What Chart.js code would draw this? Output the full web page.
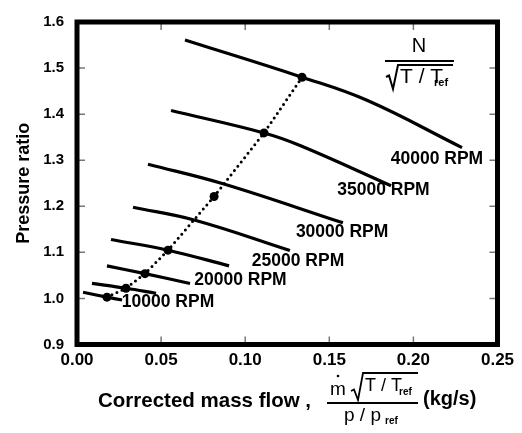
<!DOCTYPE html>
<html>
<head>
<meta charset="utf-8">
<script src="https://cdn.jsdelivr.net/npm/chart.js@4.4.1/dist/chart.umd.min.js"></script>
<style>
  html, body { margin: 0; padding: 0; background: #fff; }
  #wrap { width: 522px; height: 433px; }
</style>
</head>
<body>
<div id="wrap"><canvas id="compressorMap" width="522" height="433"></canvas></div>
<script>
// speed lines, top to bottom: corrected mass flow (kg/s) and pressure ratio
const speedFlow = [
    [0.0642, 0.1338, 0.1724, 0.2289],
    [0.0559, 0.1112, 0.1326, 0.1867],
    [0.0422, 0.0868, 0.1581],
    [0.0333, 0.0702, 0.1266],
    [0.0202, 0.0541, 0.0904],
    [0.0178, 0.0404, 0.0672],
    [0.0089, 0.0291, 0.0470],
    [0.0036, 0.0178, 0.0268]
];
const speedRatio = [
    [1.5608, 1.4801, 1.4300, 1.3274],
    [1.4080, 1.3592, 1.3320, 1.2447],
    [1.2913, 1.2489, 1.1641],
    [1.1980, 1.1698, 1.1040],
    [1.1280, 1.1047, 1.0707],
    [1.0707, 1.0538, 1.0325],
    [1.0325, 1.0220, 1.0113],
    [1.0134, 1.0028, 0.9965]
];

// operating line (dotted, with markers)
const opFlow = [0.0178, 0.0291, 0.0404, 0.0541, 0.0815, 0.1112, 0.1338];
const opRatio = [1.0028, 1.0220, 1.0538, 1.1047, 1.2213, 1.3592, 1.4801];

// speed labels and where they sit (data units)
const rpmLabels = ["40000 RPM", "35000 RPM", "30000 RPM", "25000 RPM", "20000 RPM", "10000 RPM"];
const labelFlow = [0.2140, 0.1822, 0.1576, 0.1314, 0.0972, 0.0541];
const labelRatio = [1.3020, 1.2340, 1.1429, 1.0813, 1.0389, 0.9922];

const xTicks = [0, 0.05, 0.10, 0.15, 0.20, 0.25];
const yTicks = [0.9, 1.0, 1.1, 1.2, 1.3, 1.4, 1.5, 1.6];

const FONT = '"Liberation Sans", Arial, sans-serif';

const datasets = speedFlow.map((flows, i) => ({
    data: flows.map((f, j) => ({ x: f, y: speedRatio[i][j] })),
    showLine: true,
    borderColor: "#000",
    borderWidth: 3.2,
    pointRadius: 0,
    tension: 0.4,
    fill: false
}));

datasets.push({
    data: opFlow.map((f, j) => ({ x: f, y: opRatio[j] })),
    showLine: true,
    borderColor: "#000",
    backgroundColor: "#000",
    borderWidth: 3,
    borderDash: [0, 5.5],
    borderCapStyle: "round",
    pointRadius: 4.5,
    pointBackgroundColor: "#000",
    pointBorderWidth: 0,
    tension: 0,
    fill: false
});

// radical sign helper
function radical(ctx, x0, yMid, yBot, yTop, xEnd) {
    ctx.beginPath();
    ctx.moveTo(x0, yMid);
    ctx.lineTo(x0 + 3, yMid - 1.5);
    ctx.lineTo(x0 + 7, yBot);
    ctx.lineTo(x0 + 12, yTop);
    ctx.lineTo(xEnd, yTop);
    ctx.stroke();
}

const framePlugin = {
    id: "frame",
    afterDraw(chart) {
        const ctx = chart.ctx;
        const a = chart.chartArea;
        const xs = chart.scales.x, ys = chart.scales.y;
        ctx.save();

        // inward ticks on all sides
        ctx.strokeStyle = "#777";
        ctx.lineWidth = 1.5;
        ctx.beginPath();
        xTicks.slice(1, -1).forEach(v => {
            const px = xs.getPixelForValue(v);
            ctx.moveTo(px, a.bottom); ctx.lineTo(px, a.bottom - 8);
            ctx.moveTo(px, a.top); ctx.lineTo(px, a.top + 8);
        });
        yTicks.slice(1, -1).forEach(v => {
            const py = ys.getPixelForValue(v);
            ctx.moveTo(a.left, py); ctx.lineTo(a.left + 8, py);
            ctx.moveTo(a.right, py); ctx.lineTo(a.right - 8, py);
        });
        ctx.stroke();

        // heavy frame
        ctx.strokeStyle = "#000";
        ctx.lineWidth = 5;
        ctx.strokeRect(a.left, a.top, a.right - a.left, a.bottom - a.top);

        // speed labels
        ctx.fillStyle = "#000";
        ctx.font = "bold 17.5px " + FONT;
        ctx.textAlign = "center";
        ctx.textBaseline = "middle";
        rpmLabels.forEach((t, i) => {
            ctx.fillText(t, xs.getPixelForValue(labelFlow[i]), ys.getPixelForValue(labelRatio[i]));
        });

        // N / sqrt(T/Tref) annotation
        ctx.font = "20px " + FONT;
        ctx.fillText("N", 419, 46);
        ctx.lineWidth = 2;
        ctx.beginPath();
        ctx.moveTo(385, 61); ctx.lineTo(454, 61);
        ctx.stroke();
        radical(ctx, 386, 77, 89, 65, 453);
        ctx.textAlign = "left";
        ctx.font = "21px " + FONT;
        ctx.fillText("T / T", 400, 77);
        ctx.font = "bold 11px " + FONT;
        ctx.fillText("ref", 434, 83);

        // x axis title
        ctx.font = "bold 20.5px " + FONT;
        ctx.fillText("Corrected mass flow ,", 98, 401);
        ctx.font = "19px " + FONT;
        ctx.fillText("m", 330, 390);
        ctx.beginPath();
        ctx.arc(338, 376, 1.3, 0, Math.PI * 2);
        ctx.fill();
        ctx.lineWidth = 1.8;
        radical(ctx, 351, 391, 400, 373, 418);
        ctx.font = "18px " + FONT;
        ctx.fillText("T / T", 365, 386);
        ctx.font = "bold 10px " + FONT;
        ctx.fillText("ref", 399, 392);
        ctx.lineWidth = 1.8;
        ctx.beginPath();
        ctx.moveTo(327, 403); ctx.lineTo(418, 403);
        ctx.stroke();
        ctx.font = "19px " + FONT;
        ctx.fillText("p / p", 344, 416);
        ctx.font = "bold 10px " + FONT;
        ctx.fillText("ref", 385, 421);
        ctx.font = "bold 20px " + FONT;
        ctx.fillText("(kg/s)", 423, 399);

        ctx.restore();
    }
};

new Chart(document.getElementById("compressorMap"), {
    type: "scatter",
    data: { datasets: datasets },
    options: {
        responsive: false,
        animation: false,
        devicePixelRatio: 1,
        layout: { padding: { left: 0, top: 14.5, right: 24.5, bottom: 0 } },
        plugins: {
            legend: { display: false },
            tooltip: { enabled: false }
        },
        scales: {
            x: {
                type: "linear",
                min: 0,
                max: 0.25,
                afterFit: s => { s.height = 88.5; },
                afterBuildTicks: s => { s.ticks = xTicks.map(v => ({ value: v })); },
                grid: { display: false, drawTicks: false },
                border: { display: false },
                ticks: {
                    color: "#000",
                    font: { family: FONT, size: 17, weight: "bold" },
                    padding: 6,
                    maxRotation: 0,
                    callback: v => Number(v).toFixed(2)
                }
            },
            y: {
                type: "linear",
                min: 0.9,
                max: 1.6,
                afterFit: s => { s.width = 77; },
                afterBuildTicks: s => { s.ticks = yTicks.map(v => ({ value: v })); },
                grid: { display: false, drawTicks: false },
                border: { display: false },
                title: {
                    display: true,
                    text: "Pressure ratio",
                    color: "#000",
                    font: { family: FONT, size: 18, weight: "bold" },
                    padding: { top: 13 }
                },
                ticks: {
                    color: "#000",
                    font: { family: FONT, size: 15, weight: "bold" },
                    padding: 13,
                    callback: v => Number(v).toFixed(1)
                }
            }
        }
    },
    plugins: [framePlugin]
});
</script>
</body>
</html>
